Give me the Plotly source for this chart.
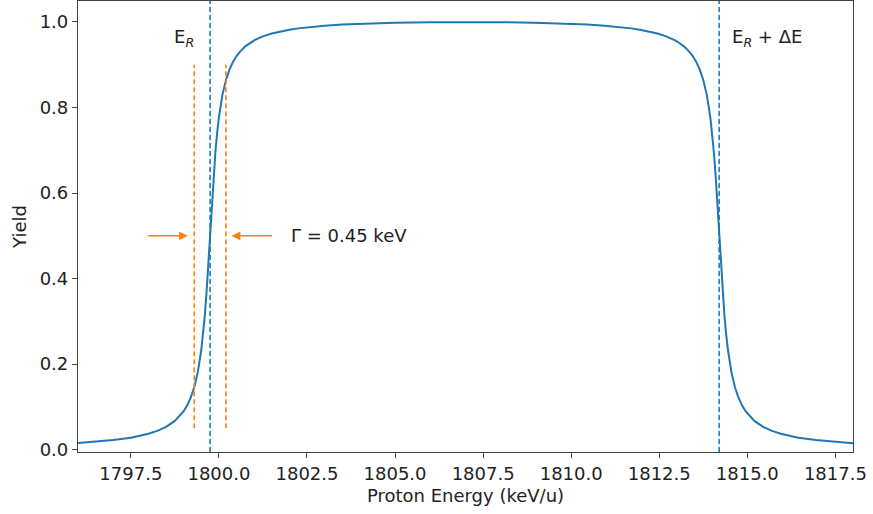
import plotly.graph_objects as go

# ---- data ----
energy = [1796.0, 1796.5, 1797.0, 1797.5, 1798.0, 1798.25, 1798.5, 1798.75,
          1799.0, 1799.1, 1799.2, 1799.3, 1799.4, 1799.5, 1799.55, 1799.6,
          1799.65, 1799.7, 1799.75, 1799.8, 1799.85, 1799.9, 1799.95, 1800.0,
          1800.1, 1800.2, 1800.3, 1800.4, 1800.5, 1800.6, 1800.75, 1800.9,
          1801.0, 1801.1, 1801.25, 1801.5, 1801.75, 1802.0, 1802.25, 1802.5,
          1803.0, 1803.5, 1804.0, 1805.0, 1806.0, 1807.0, 1807.95, 1808.95,
          1809.95, 1810.45, 1810.95, 1811.45, 1811.7, 1811.95, 1812.2, 1812.45,
          1812.7, 1812.85, 1812.95, 1813.05, 1813.2, 1813.35, 1813.45, 1813.55,
          1813.65, 1813.75, 1813.85, 1813.95, 1814.0, 1814.05, 1814.1, 1814.15,
          1814.2, 1814.25, 1814.3, 1814.35, 1814.4, 1814.45, 1814.55, 1814.65,
          1814.75, 1814.85, 1814.95, 1815.2, 1815.45, 1815.7, 1815.95, 1816.45,
          1816.95, 1817.45, 1817.95, 1818.0]
yield_vals = [0.0155, 0.0184, 0.0223, 0.0280, 0.0370, 0.0438, 0.0532, 0.0672,
              0.0898, 0.1035, 0.1214, 0.1457, 0.1806, 0.2330, 0.2692, 0.3141,
              0.3693, 0.4341, 0.5051, 0.5761, 0.6409, 0.6960, 0.7410, 0.7771,
              0.8295, 0.8645, 0.8887, 0.9067, 0.9203, 0.9308, 0.9429, 0.9520,
              0.9569, 0.9610, 0.9663, 0.9730, 0.9780, 0.9819, 0.9850, 0.9875,
              0.9913, 0.9939, 0.9959, 0.9984, 0.9996, 1.0000, 0.9996, 0.9984,
              0.9959, 0.9939, 0.9913, 0.9875, 0.9850, 0.9819, 0.9780, 0.9730,
              0.9663, 0.9610, 0.9569, 0.9520, 0.9429, 0.9308, 0.9203, 0.9067,
              0.8887, 0.8645, 0.8295, 0.7771, 0.7410, 0.6960, 0.6409, 0.5761,
              0.5051, 0.4341, 0.3693, 0.3141, 0.2692, 0.2330, 0.1806, 0.1457,
              0.1214, 0.1035, 0.0898, 0.0672, 0.0532, 0.0438, 0.0370, 0.0280,
              0.0223, 0.0184, 0.0155, 0.0152]

E_R = 1799.75          # resonance energy
E_R_DE = 1814.2        # E_R + Delta E
GAMMA = 0.45           # resonance width (keV)
gamma_lines = [E_R - GAMMA, E_R + GAMMA]
gamma_line_span = [0.05, 0.9]

x_ticks = [1797.5, 1800.0, 1802.5, 1805.0, 1807.5, 1810.0, 1812.5, 1815.0, 1817.5]
y_ticks = [0.0, 0.2, 0.4, 0.6, 0.8, 1.0]

BLUE = "#1f77b4"
ORANGE = "#ff7f0e"
FONT = "DejaVu Sans"
FS = 18

fig = go.Figure()

fig.add_trace(go.Scatter(x=energy, y=yield_vals, mode="lines",
                         line=dict(color=BLUE, width=2), showlegend=False,
                         hoverinfo="skip"))

# blue dashed lines at E_R and E_R + dE (full height)
for xv in [E_R, E_R_DE]:
    fig.add_shape(type="line", xref="x", yref="paper", x0=xv, x1=xv, y0=0, y1=1,
                  line=dict(color=BLUE, width=1.6, dash="5px,3px"))

# orange dashed lines at E_R +- Gamma
for xv in gamma_lines:
    fig.add_shape(type="line", xref="x", yref="y", x0=xv, x1=xv,
                  y0=gamma_line_span[0], y1=gamma_line_span[1],
                  line=dict(color=ORANGE, width=1.6, dash="5px,3px"))

# arrows
arrows = [(1797.95, 1799.12), (1801.55, 1800.36)]
for x_from, x_to in arrows:
    fig.add_annotation(x=x_to, y=0.5, ax=x_from, ay=0.5, xref="x", yref="y",
                       axref="x", ayref="y", text="", showarrow=True,
                       arrowhead=2, arrowsize=1.1, arrowwidth=1.6,
                       arrowcolor=ORANGE)

fig.add_annotation(x=1802.0, y=0.5, xref="x", yref="y", text="Γ = 0.45 keV",
                   showarrow=False, xanchor="left", yanchor="middle",
                   font=dict(family=FONT, size=FS, color="#222"))
fig.add_annotation(x=1799.0, y=0.962, xref="x", yref="y",
                   text="E<sub><i>R</i></sub>",
                   showarrow=False, xanchor="center", yanchor="middle",
                   font=dict(family=FONT, size=FS, color="#222"))
fig.add_annotation(x=1814.5, y=0.962, xref="x", yref="y",
                   text="E<sub><i>R</i></sub> + ΔE",
                   showarrow=False, xanchor="left", yanchor="middle",
                   font=dict(family=FONT, size=FS, color="#222"))

axis_common = dict(showline=True, linecolor="#444", linewidth=1.2, mirror=True,
                   ticks="outside", ticklen=5, tickwidth=1.2, tickcolor="#444",
                   showgrid=False, zeroline=False,
                   tickfont=dict(family=FONT, size=FS, color="#222"))

fig.update_xaxes(range=[1796.0, 1818.0], tickvals=x_ticks,
                 ticktext=[f"{v:.1f}" for v in x_ticks],
                 title=dict(text="Proton Energy (keV/u)", standoff=6,
                            font=dict(family=FONT, size=FS, color="#222")),
                 **axis_common)
fig.update_yaxes(range=[-0.0055, 1.049], tickvals=y_ticks,
                 ticktext=[f"{v:.1f}" for v in y_ticks],
                 title=dict(text="Yield", standoff=8,
                            font=dict(family=FONT, size=FS, color="#222")),
                 **axis_common)

fig.update_layout(width=873, height=514,
                  margin=dict(l=78, r=20, t=1, b=62),
                  plot_bgcolor="white", paper_bgcolor="white",
                  font=dict(family=FONT, size=FS, color="#222"))

fig.write_html("out.html")
